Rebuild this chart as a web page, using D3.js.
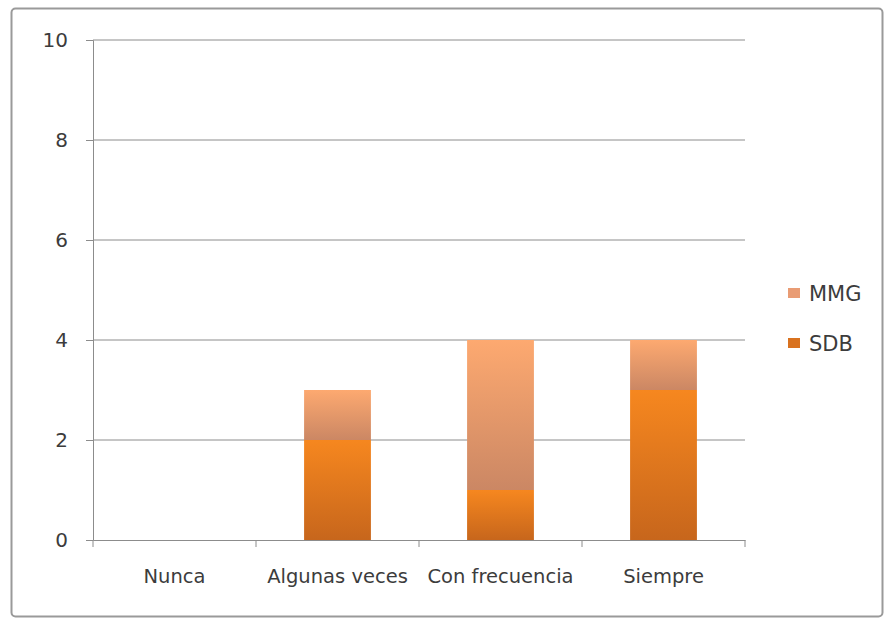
<!DOCTYPE html>
<html><head><meta charset="utf-8">
<script src="https://cdn.jsdelivr.net/npm/d3@7"></script>
<style>body{margin:0;background:#fff}svg{display:block}</style>
</head><body>
<svg id="c" width="886" height="622"></svg>
<script>
const categories = ["Nunca","Algunas veces","Con frecuencia","Siempre"];
const sdb = [0,2,1,3];
const mmg = [0,1,3,1];
const yTicks = [0,2,4,6,8,10];
const seriesNames = ["SDB","MMG"];

const svg = d3.select("#c");
const font = "'DejaVu Sans', sans-serif";
const L = 93, R = 745, T = 40, B = 540;

svg.append("rect").attr("x",11.5).attr("y",8.5).attr("width",871).attr("height",608)
  .attr("rx",4).attr("fill","#fff").attr("stroke","#9a9a9a").attr("stroke-width",2);

const defs = svg.append("defs");
const g1 = defs.append("linearGradient").attr("id","gSDB").attr("x1",0).attr("y1",0).attr("x2",0).attr("y2",1);
g1.append("stop").attr("offset","0%").attr("stop-color","#F6871F");
g1.append("stop").attr("offset","100%").attr("stop-color","#C7661C");
const g2 = defs.append("linearGradient").attr("id","gMMG").attr("x1",0).attr("y1",0).attr("x2",0).attr("y2",1);
g2.append("stop").attr("offset","0%").attr("stop-color","#FDA970");
g2.append("stop").attr("offset","100%").attr("stop-color","#CB8764");

const x = d3.scaleBand().domain(categories).range([L,R]).paddingInner(0.59).paddingOuter(0.295);
const xb = d3.scaleBand().domain(categories).range([L,R]);
const y = d3.scaleLinear().domain([0,10]).range([B,T]);

// gridlines
svg.append("g").selectAll("line").data(yTicks.filter(d=>d>0)).join("line")
  .attr("x1",L).attr("x2",R).attr("y1",d=>y(d)).attr("y2",d=>y(d))
  .attr("stroke","#8c8c8c").attr("stroke-width",1);

// y axis
const ya = svg.append("g").attr("transform",`translate(${L},0)`)
  .call(d3.axisLeft(y).tickValues(yTicks).tickSize(7).tickPadding(18));
ya.select(".domain").attr("stroke","#8c8c8c");
ya.selectAll(".tick line").attr("stroke","#8c8c8c");
ya.selectAll("text").attr("font-family",font).attr("font-size",20).attr("fill","#3c3c3c");

// x axis
const xa = svg.append("g").attr("transform",`translate(0,${B})`)
  .call(d3.axisBottom(xb).tickSize(0).tickPadding(29));
xa.select(".domain").attr("stroke","#8c8c8c");
xa.selectAll("text").attr("font-family",font).attr("font-size",19.5).attr("fill","#3c3c3c");
const bounds = [L, ...categories.map(c=>xb(c)+xb.bandwidth())];
svg.append("g").selectAll("line").data(bounds).join("line")
  .attr("x1",d=>d).attr("x2",d=>d).attr("y1",B).attr("y2",B+7)
  .attr("stroke","#8c8c8c");

// bars
const stackData = categories.map((c,i)=>({cat:c,SDB:sdb[i],MMG:mmg[i]}));
const stack = d3.stack().keys(seriesNames)(stackData);
svg.append("g").selectAll("g").data(stack).join("g")
  .attr("fill",s=>`url(#g${s.key})`)
  .selectAll("rect").data(s=>s.filter(d=>d[1]-d[0]>0)).join("rect")
  .attr("x",d=>x(d.data.cat)).attr("width",x.bandwidth())
  .attr("y",d=>y(d[1])).attr("height",d=>y(d[0])-y(d[1]));

// legend
const leg = [{k:"MMG",c:"#E99C74",y:293},{k:"SDB",c:"#D9721F",y:343}];
const lg = svg.append("g").selectAll("g").data(leg).join("g");
lg.append("rect").attr("x",788).attr("y",d=>d.y-5).attr("width",12).attr("height",10).attr("fill",d=>d.c);
lg.append("text").attr("x",809).attr("y",d=>d.y).attr("dy","0.36em")
  .attr("font-family",font).attr("font-size",21).attr("fill","#3c3c3c").text(d=>d.k);
</script>
</body></html>
